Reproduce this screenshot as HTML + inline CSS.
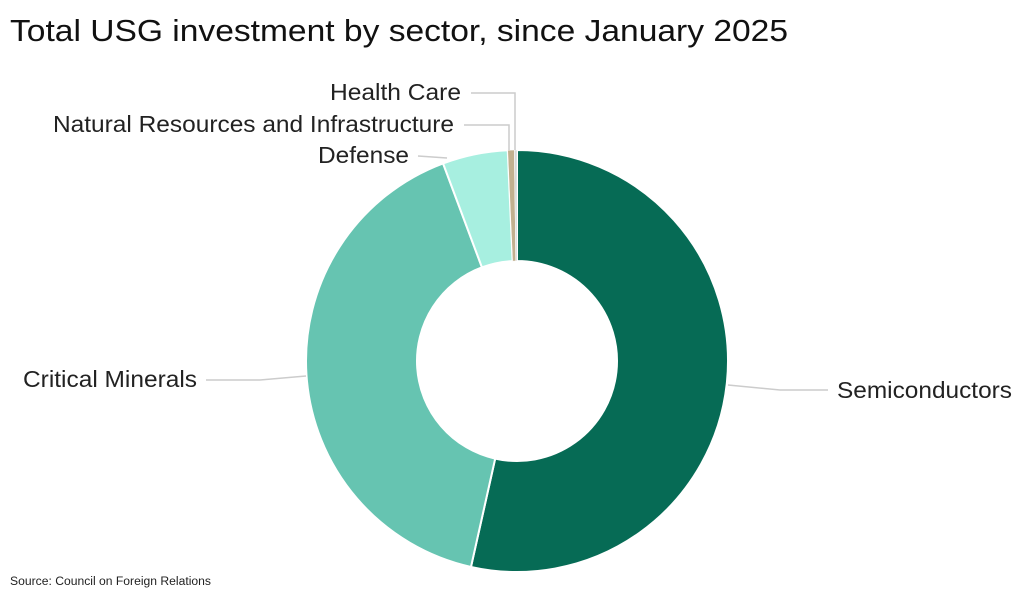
<!DOCTYPE html>
<html><head><meta charset="utf-8"><style>
body{margin:0;background:#fff;width:1024px;height:599px;overflow:hidden;font-family:"Liberation Sans",sans-serif;}
</style></head><body>
<svg width="1024" height="599">
<text x="10" y="41" font-size="31" textLength="778" lengthAdjust="spacingAndGlyphs" fill="#111">Total USG investment by sector, since January 2025</text>
<g id="slices"></g>
<g id="labels"></g>
<text x="10" y="585" font-size="11.5" textLength="201" lengthAdjust="spacingAndGlyphs" fill="#222">Source: Council on Foreign Relations</text>
</svg>
<script>
const categories=["Semiconductors","Critical Minerals","Defense","Natural Resources and Infrastructure","Health Care"];
const values=[53.5,40.8,5.0,0.5,0.2];
const colors=["#066b55","#66c4b1","#a7efe0","#c2b08f","#d8d8d8"];
const cx=517,cy=361,R=211,r=100;
const total=values.reduce((a,b)=>a+b,0);
const g=document.getElementById('slices');
const NS="http://www.w3.org/2000/svg";
function pt(a,rad){return [cx+rad*Math.sin(a),cy-rad*Math.cos(a)];}
let acc=0;
values.forEach((v,i)=>{
 const a0=acc/total*2*Math.PI;acc+=v;const a1=acc/total*2*Math.PI;
 const lg=(a1-a0)>Math.PI?1:0;
 const p0=pt(a0,R),p1=pt(a1,R),q1=pt(a1,r),q0=pt(a0,r);
 const p=document.createElementNS(NS,'path');
 p.setAttribute('d',`M${p0}A${R},${R} 0 ${lg} 1 ${p1}L${q1}A${r},${r} 0 ${lg} 0 ${q0}Z`);
 p.setAttribute('fill',colors[i]);p.setAttribute('stroke','#fff');p.setAttribute('stroke-width',i>=3?0.5:2);
 
 
 g.appendChild(p);
});
const L=document.getElementById('labels');
const lab=[
 {tx:837,ty:398,w:175,anchor:"start",line:[[728,385],[780,390],[828,390]]},
 {tx:23,ty:387,w:174,anchor:"start",line:[[306,376],[260,380],[206,380]]},
 {tx:318,ty:163,w:91,anchor:"start",line:[[447,158],[418,156]]},
 {tx:53,ty:132,w:401,anchor:"start",line:[[509,150],[509,125],[464,125]]},
 {tx:330,ty:100,w:131,anchor:"start",line:[[515,150],[515,93],[471,93]]}
];
lab.forEach((o,i)=>{
 const pl=document.createElementNS(NS,'polyline');
 pl.setAttribute('points',o.line.map(p=>p.join(',')).join(' '));
 pl.setAttribute('fill','none');pl.setAttribute('stroke','#ccc');pl.setAttribute('stroke-width','1.5');
 
 
 L.appendChild(pl);
 const t=document.createElementNS(NS,'text');
 t.setAttribute('x',o.tx);t.setAttribute('y',o.ty);t.setAttribute('text-anchor',o.anchor);
 t.setAttribute('font-size','23');t.setAttribute('fill','#222');
 t.setAttribute('textLength',o.w);t.setAttribute('lengthAdjust','spacingAndGlyphs');
 t.textContent=categories[i];
 
 
 L.appendChild(t);
});
</script>
</body></html>
